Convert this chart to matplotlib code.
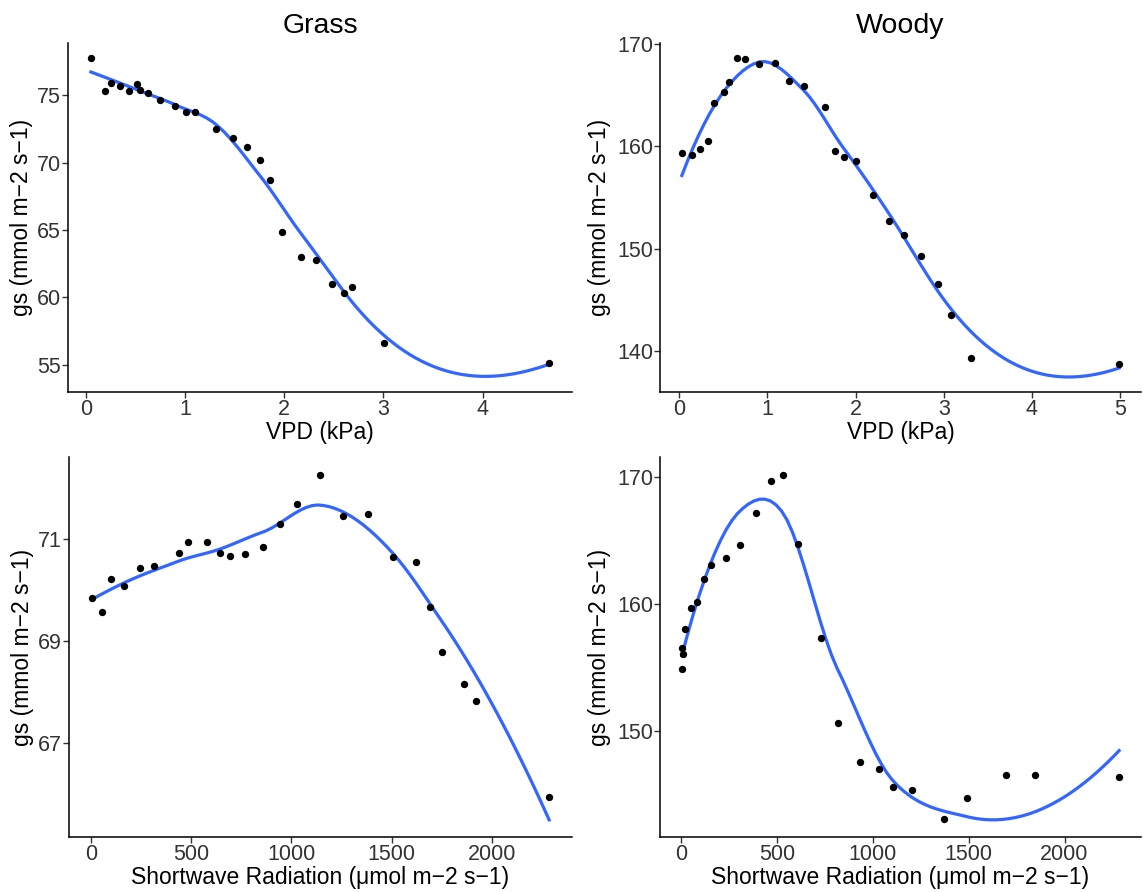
import numpy as np
import matplotlib
matplotlib.use('Agg')
import matplotlib.pyplot as plt

plt.rcParams['font.family'] = ['Liberation Sans', 'DejaVu Sans']

# Grass - VPD
grass_vpd_x = [0.05, 0.19, 0.25, 0.34, 0.43, 0.51, 0.55, 0.63, 0.75, 0.90, 1.01, 1.10,
               1.31, 1.48, 1.62, 1.76, 1.86, 1.98, 2.17, 2.32, 2.48, 2.60, 2.68, 3.01, 4.67]
grass_vpd_y = [77.78, 75.30, 75.92, 75.72, 75.37, 75.87, 75.42, 75.17, 74.68, 74.23, 73.81, 73.81,
               72.52, 71.82, 71.20, 70.21, 68.72, 64.83, 62.97, 62.77, 60.98, 60.29, 60.78, 56.64, 55.12]

# Woody - VPD
woody_vpd_x = [0.03, 0.14, 0.24, 0.33, 0.40, 0.51, 0.57, 0.65, 0.75, 0.90, 1.09, 1.24, 1.41,
               1.65, 1.77, 1.87, 2.00, 2.20, 2.38, 2.55, 2.74, 2.93, 3.08, 3.31, 4.99]
woody_vpd_y = [159.32, 159.15, 159.77, 160.52, 164.27, 165.28, 166.25, 168.60, 168.50, 168.05,
               168.18, 166.42, 165.93, 163.88, 159.54, 158.93, 158.57, 155.31, 152.70, 151.40,
               149.32, 146.55, 143.52, 139.35, 138.79]

# Grass - shortwave radiation
grass_sw_x = [4, 54, 98, 165, 246, 315, 439, 485, 580, 646, 696, 767, 856, 943, 1028, 1143,
              1257, 1383, 1509, 1620, 1691, 1750, 1863, 1920, 2287]
grass_sw_y = [69.83, 69.56, 70.20, 70.08, 70.43, 70.47, 70.71, 70.93, 70.93, 70.72, 70.65, 70.69,
              70.84, 71.29, 71.67, 72.25, 71.44, 71.49, 70.64, 70.54, 69.66, 68.78, 68.15, 67.82, 65.94]

# Woody - shortwave radiation
woody_sw_x = [3, 8, 5, 19, 53, 84, 116, 156, 231, 304, 390, 467, 531, 608, 728, 816, 934,
              1032, 1103, 1205, 1373, 1490, 1692, 1846, 2285]
woody_sw_y = [156.56, 156.04, 154.86, 158.06, 159.68, 160.21, 161.99, 163.07, 163.65, 164.67,
              167.22, 169.69, 170.18, 164.75, 157.30, 150.63, 147.59, 147.03, 145.62, 145.35,
              143.10, 144.75, 146.54, 146.54, 146.38]

vpd_label = 'VPD (kPa)'
sw_label = 'Shortwave Radiation (\u03bcmol m\u22122 s\u22121)'
gs_label = 'gs (mmol m\u22122 s\u22121)'


def local_fit(x, y, z, q):
    # weighted local quadratic at z -> value and slope
    d = np.abs(x - z)
    rho = np.sort(d)[q - 1]
    w = np.clip(1 - (d / rho) ** 3, 0, None) ** 3
    X = np.column_stack([np.ones(len(x)), x - z, (x - z) ** 2])
    sw = np.sqrt(w)
    beta = np.linalg.lstsq(X * sw[:, None], y * sw, rcond=None)[0]
    return beta[0], beta[1]


def kd_vertices(x, span=0.75, cell=0.2):
    # split points like R's loess kd tree, return cell vertices
    x = np.sort(x)
    n = len(x)
    fc = int(np.floor(n * span * cell))
    rng = x.max() - x.min()
    verts = {x.min() - 0.005 * rng, x.max() + 0.005 * rng}

    def split(l, u, vlo, vhi):
        if u - l + 1 <= fc:
            return
        m = (l + u + 2) // 2 - 1
        while m > l and x[m - 1] == x[m]:
            m -= 1
        if x[m] == vlo or x[m] == vhi:
            return
        verts.add(x[m])
        split(l, m, vlo, x[m])
        split(m + 1, u, x[m], vhi)

    split(0, n - 1, min(verts), max(verts))
    return np.array(sorted(verts))


def smooth(x, y, span=0.75, n_out=80):
    # loess (geom_smooth default) with cubic Hermite interpolation between vertices
    x = np.asarray(x, float)
    y = np.asarray(y, float)
    q = int(np.floor(len(x) * span + 1e-5))
    verts = kd_vertices(x, span)
    vals = np.array([local_fit(x, y, v, q) for v in verts])
    xs = np.linspace(x.min(), x.max(), n_out)
    ys = np.empty(n_out)
    for k, z in enumerate(xs):
        i = np.clip(np.searchsorted(verts, z) - 1, 0, len(verts) - 2)
        v0, v1 = verts[i], verts[i + 1]
        h = (z - v0) / (v1 - v0)
        g0, s0 = vals[i]
        g1, s1 = vals[i + 1]
        phi0 = (1 - h) ** 2 * (1 + 2 * h)
        phi1 = h ** 2 * (3 - 2 * h)
        psi0 = h * (1 - h) ** 2
        psi1 = -h ** 2 * (1 - h)
        ys[k] = phi0 * g0 + phi1 * g1 + (psi0 * s0 + psi1 * s1) * (v1 - v0)
    return xs, ys


fig = plt.figure(figsize=(11.43, 8.92), dpi=100)

panels = [
    (grass_vpd_x, grass_vpd_y, vpd_label, [68, 43, 572, 392], [0, 1, 2, 3, 4],
     [55, 60, 65, 70, 75], (52.97, 78.9), 'Grass', -0.069),
    (woody_vpd_x, woody_vpd_y, vpd_label, [660, 43, 1141, 392], [0, 1, 2, 3, 4, 5],
     [140, 150, 160, 170], (136.03, 170.1), 'Woody', -0.102),
    (grass_sw_x, grass_sw_y, sw_label, [69, 457, 572, 837], [0, 500, 1000, 1500, 2000],
     [67, 69, 71], (65.15, 72.6), None, -0.069),
    (woody_sw_x, woody_sw_y, sw_label, [660, 457, 1141, 837], [0, 500, 1000, 1500, 2000],
     [150, 160, 170], (141.65, 171.6), None, -0.102),
]

W, H = 1143, 892
for x, y, xlab, (l, t, r, b), xt, yt, ylim, title, ylx in panels:
    ax = fig.add_axes([l / W, 1 - b / H, (r - l) / W, (b - t) / H])
    xs, ys = smooth(x, y)
    ax.plot(xs, ys, color='#3366FF', lw=2.3, zorder=2)
    ax.scatter(x, y, s=28, color='black', zorder=3, linewidths=0)
    xmin, xmax = min(x), max(x)
    pad = 0.05 * (xmax - xmin)
    ax.set_xlim(xmin - pad, xmax + pad)
    ax.set_ylim(*ylim)
    ax.set_xticks(xt)
    ax.set_yticks(yt)
    for s in ['top', 'right']:
        ax.spines[s].set_visible(False)
    for s in ['left', 'bottom']:
        ax.spines[s].set_linewidth(1.1)
    ax.tick_params(labelsize=15.5, labelcolor='#333333', color='#333333',
                   length=4, width=1.0, pad=1)
    ax.set_xlabel(xlab, fontsize=16.5, labelpad=1)
    ax.set_ylabel(gs_label, fontsize=16.5)
    ax.yaxis.set_label_coords(ylx, 0.5)
    if title:
        ax.set_title(title, fontsize=20.5, pad=7)

fig.savefig('out.png', dpi=100)
